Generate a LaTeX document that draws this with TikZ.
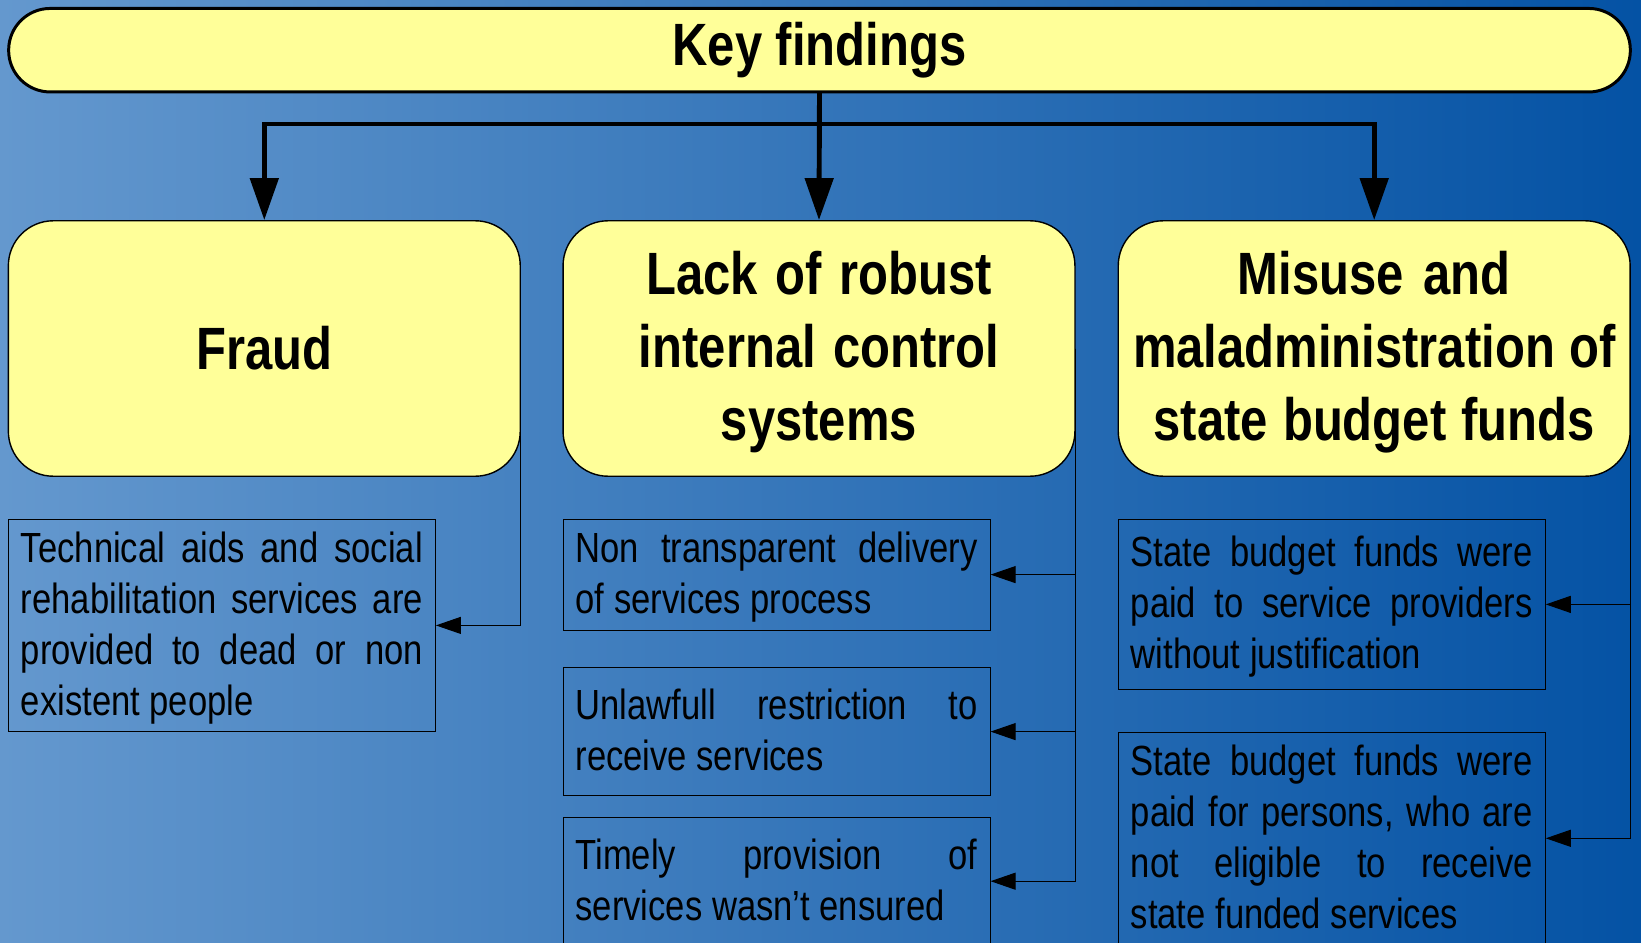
\documentclass[tikz,border=0pt]{standalone}
\usepackage{fontspec}
\setmainfont[FakeStretch=0.82]{Liberation Sans}
\usetikzlibrary{arrows.meta}

\definecolor{noteyellow}{HTML}{FFFF99}
\definecolor{bgleft}{RGB}{100,152,206}
\definecolor{bgright}{RGB}{4,82,164}

% narrow word space, as the font is condensed
\newcommand{\narrowspace}{\spaceskip=0.228em plus 0.1em minus 0.05em\relax}
% one justified line inside a finding box
\newcommand{\fullline}[1]{\makebox[8.04cm][s]{\spaceskip=0.228em plus 1fil\relax #1}\\}
% a little more room above the first heading line
\newcommand{\toppad}{\rule{0pt}{0.85em}}

\begin{document}
\begin{tikzpicture}
      [x=0.02cm, y=-0.02cm,
      %%%%%%%%%%%%%%%%%%%%%%%%%%%%%%
      keybar/.style={rectangle,draw=black,line width=1.7pt,fill=noteyellow,rounded corners=0.83cm,
        minimum width=32.44cm,minimum height=1.67cm,font=\bfseries\fontsize{34}{41.6}\selectfont},
      heading/.style={rectangle,draw=black,line width=0.8pt,fill=noteyellow,rounded corners=0.9cm,
        minimum width=10.24cm,minimum height=5.11cm,text width=10cm,align=center,
        font=\bfseries\fontsize{34}{41.6}\selectfont,execute at begin node=\narrowspace},
      finding/.style={rectangle,draw=black,line width=0.6pt,text width=8.04cm,inner xsep=0.25cm,
        inner ysep=0.1cm,align=left,font=\fontsize{24}{29}\selectfont,
        execute at begin node=\narrowspace\rule{0pt}{0.85em},
        execute at end node=\rule[-0.21em]{0pt}{0.21em}},
      bigarrow/.style={line width=2.8pt,-{Triangle[length=0.84cm,width=0.56cm]}},
      smallarrow/.style={line width=0.6pt,-{Triangle[length=0.5cm,width=0.34cm]}},
      ]%%%%%%%%%%%%%%%%%%%%%%%%%%%%%%

      \shade[left color=bgleft,right color=bgright] (0,0) rectangle (1641,943);
      \useasboundingbox (0,0) rectangle (1641,943);

      \node[keybar] (key) at (819.5,50.2) {Key findings};

      \node[heading] (fraud) at (264.3,348.5) {Fraud};
      \node[heading] (control) at (819,348.5) {\toppad Lack of robust\\internal control\\systems};
      \node[heading] (misuse) at (1374.2,348.5) {\toppad Misuse and\\maladministration of\\state budget funds};

      % findings under each heading
      \node[finding,minimum height=4.25cm] (fraudA) at (221.9,625.4)
        {\fullline{Technical aids and social}\fullline{rehabilitation services are}\fullline{provided to dead or non}existent people};
      \node[finding,minimum height=2.22cm] (controlA) at (776.6,574.6)
        {\fullline{Non transparent delivery}of services process};
      \node[finding,minimum height=2.554cm] (controlB) at (776.6,731.6)
        {\fullline{Unlawfull restriction to}receive services};
      \node[finding,minimum height=2.554cm] (controlC) at (776.6,881.2)
        {\fullline{Timely provision of}services wasn't ensured};
      \node[finding,minimum height=3.41cm] (misuseA) at (1331.8,604.4)
        {\fullline{State budget funds were}\fullline{paid to service providers}without justification};
      \node[finding,minimum height=4.23cm] (misuseB) at (1331.8,838.3)
        {\fullline{State budget funds were}\fullline{paid for persons, who are}\fullline{not eligible to receive}state funded services};

      \coordinate (split) at (819.5,124);
      \draw[line width=2.8pt] (key.south) -- (split);
      \draw[bigarrow] (split) -| (fraud.north);
      \draw[bigarrow] (key.south) -- (control.north);
      \draw[bigarrow] (split) -| (misuse.north);

      \draw[smallarrow] (fraud.east) |- (fraudA.east);
      \draw[smallarrow] (control.east) |- (controlA.east);
      \draw[smallarrow] (control.east) |- (controlB.east);
      \draw[smallarrow] (control.east) |- (controlC.east);
      \draw[smallarrow] (misuse.east) |- (misuseA.east);
      \draw[smallarrow] (misuse.east) |- (misuseB.east);
    \end{tikzpicture}
\end{document}
